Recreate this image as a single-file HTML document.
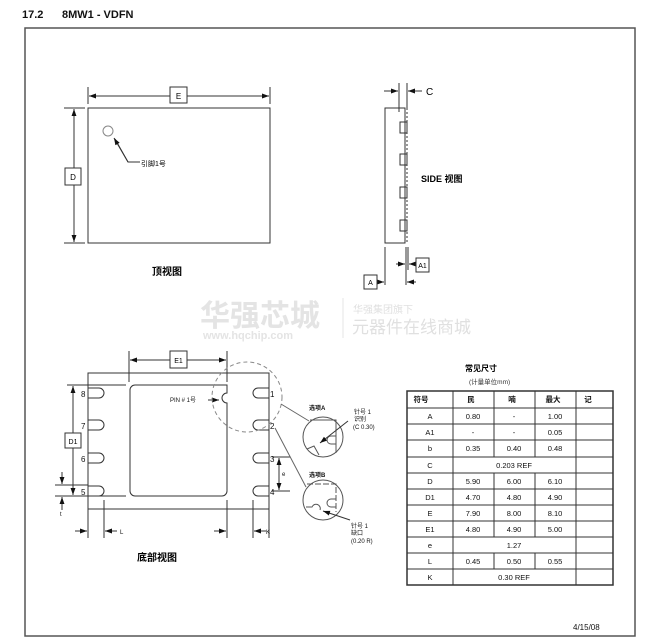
<!DOCTYPE html>
<html><head><meta charset="utf-8"><style>
html,body{margin:0;padding:0;background:#fff;}
svg{display:block;font-family:"Liberation Sans","Noto Sans CJK SC",sans-serif;}
</style></head><body>
<svg width="667" height="637" viewBox="0 0 667 637" xmlns="http://www.w3.org/2000/svg">
<defs>
<marker id="ar" viewBox="0 0 10 10" refX="10" refY="5" markerWidth="7" markerHeight="7" orient="auto-start-reverse"><path d="M0,1.5 L10,5 L0,8.5z" fill="#111"/></marker>
</defs>
<text x="22" y="18" font-size="11" font-weight="bold" fill="#111">17.2</text>
<text x="62" y="18" font-size="11" font-weight="bold" fill="#111">8MW1 - VDFN</text>
<rect x="25" y="28" width="610" height="608" fill="none" stroke="#555" stroke-width="1.5"/>

<g stroke="#333" fill="none" stroke-width="1">
<!-- top view -->
<rect x="88" y="108" width="182" height="135"/>
<line x1="88" y1="87" x2="88" y2="104"/><line x1="270" y1="87" x2="270" y2="104"/>
<line x1="89" y1="96" x2="170" y2="96" marker-start="url(#ar)"/><line x1="187" y1="96" x2="269" y2="96" marker-end="url(#ar)"/>
<line x1="64" y1="108" x2="85" y2="108"/><line x1="64" y1="243" x2="85" y2="243"/>
<line x1="74" y1="109" x2="74" y2="168" marker-start="url(#ar)"/><line x1="74" y1="185" x2="74" y2="242" marker-end="url(#ar)"/>
<circle cx="108" cy="131" r="5" stroke="#888"/>
<polyline points="140,162 128,162 115,139" /><line x1="128" y1="162" x2="114" y2="138" marker-end="url(#ar)"/>
</g>
<rect x="170" y="87" width="17" height="16" fill="#fff" stroke="#333"/><text x="178.5" y="99" font-size="8" text-anchor="middle">E</text>
<rect x="65" y="168" width="16" height="17" fill="#fff" stroke="#333"/><text x="73" y="180" font-size="8" text-anchor="middle">D</text>
<text x="141" y="166" font-size="7">引脚1号</text>
<text x="152" y="275" font-size="10" font-weight="bold">顶视图</text>

<!-- side view -->
<g stroke="#333" fill="none" stroke-width="1">
<rect x="385" y="108" width="20" height="135"/>
<line x1="407" y1="108" x2="407" y2="243" stroke-dasharray="2,2"/>
<rect x="400" y="122" width="7" height="11"/><rect x="400" y="154" width="7" height="11"/>
<rect x="400" y="187" width="7" height="11"/><rect x="400" y="220" width="7" height="11"/>
<line x1="399" y1="83" x2="399" y2="112"/><line x1="407" y1="83" x2="407" y2="108"/>
<line x1="384" y1="91" x2="398" y2="91" marker-end="url(#ar)"/><line x1="422" y1="91" x2="408" y2="91" marker-end="url(#ar)"/>
<line x1="385" y1="247" x2="385" y2="285"/><line x1="406" y1="247" x2="406" y2="285"/><line x1="408" y1="247" x2="408" y2="270"/>
<line x1="396" y1="264" x2="405" y2="264" marker-end="url(#ar)"/><line x1="416" y1="264" x2="409" y2="264" marker-end="url(#ar)"/>
<line x1="377" y1="282" x2="384" y2="282" marker-end="url(#ar)"/><line x1="416" y1="282" x2="407" y2="282" marker-end="url(#ar)"/>
</g>
<text x="426" y="95" font-size="10">C</text>
<text x="421" y="182" font-size="9" font-weight="bold">SIDE 视图</text>
<rect x="416" y="258" width="13" height="14" fill="#fff" stroke="#333"/><text x="422.5" y="268" font-size="7" text-anchor="middle">A1</text>
<rect x="364" y="275" width="13" height="14" fill="#fff" stroke="#333"/><text x="370.5" y="285" font-size="7" text-anchor="middle">A</text>

<!-- watermark -->
<text x="200" y="326" font-size="30" font-weight="bold" fill="#e4e4e4">华强芯城</text>
<text x="203" y="339" font-size="11" font-weight="bold" fill="#e4e4e4">www.hqchip.com</text>
<line x1="343" y1="298" x2="343" y2="338" stroke="#e4e4e4"/>
<text x="353" y="313" font-size="10" fill="#e0e0e0">华强集团旗下</text>
<text x="352" y="333" font-size="17" fill="#e0e0e0">元器件在线商城</text>

<!-- bottom view -->
<g stroke="#333" fill="none" stroke-width="1">
<rect x="88" y="373" width="181" height="136"/>
<path d="M135,385 H227 V393 A4,4 0 0 0 227,403 V491 A5,5 0 0 1 222,496 H135 A5,5 0 0 1 130,491 V390 A5,5 0 0 1 135,385 Z"/>
<path d="M88,388 H99 A5,5 0 0 1 99,398 H88"/><path d="M88,420 H99 A5,5 0 0 1 99,430 H88"/>
<path d="M88,453 H99 A5,5 0 0 1 99,463 H88"/><path d="M88,486 H99 A5,5 0 0 1 99,496 H88"/>
<path d="M269,388 H258 A5,5 0 0 0 258,398 H269"/><path d="M269,420 H258 A5,5 0 0 0 258,430 H269"/>
<path d="M269,453 H258 A5,5 0 0 0 258,463 H269"/><path d="M269,486 H258 A5,5 0 0 0 258,496 H269"/>
<line x1="129" y1="351" x2="129" y2="382"/><line x1="227" y1="351" x2="227" y2="382"/>
<line x1="130" y1="360" x2="170" y2="360" marker-start="url(#ar)"/><line x1="187" y1="360" x2="226" y2="360" marker-end="url(#ar)"/>
<line x1="67" y1="385" x2="126" y2="385"/><line x1="55" y1="496" x2="126" y2="496"/><line x1="55" y1="485" x2="88" y2="485"/>
<line x1="73" y1="386" x2="73" y2="433" marker-start="url(#ar)"/><line x1="73" y1="448" x2="73" y2="495" marker-end="url(#ar)"/>
<line x1="62" y1="472" x2="62" y2="484" marker-end="url(#ar)"/><line x1="62" y1="510" x2="62" y2="497" marker-end="url(#ar)"/>
<line x1="88" y1="509" x2="88" y2="538"/><line x1="104" y1="500" x2="104" y2="538"/>
<line x1="227" y1="500" x2="227" y2="538"/><line x1="253" y1="500" x2="253" y2="538"/><line x1="269" y1="509" x2="269" y2="538"/>
<line x1="75" y1="531" x2="87" y2="531" marker-end="url(#ar)"/><line x1="117" y1="531" x2="105" y2="531" marker-end="url(#ar)"/>
<line x1="214" y1="531" x2="226" y2="531" marker-end="url(#ar)"/><line x1="266" y1="531" x2="254" y2="531" marker-end="url(#ar)"/>
<line x1="272" y1="457" x2="290" y2="457"/><line x1="272" y1="491" x2="290" y2="491"/>
<line x1="279" y1="458" x2="279" y2="490" marker-start="url(#ar)" marker-end="url(#ar)"/>
<line x1="208" y1="400" x2="219" y2="400" marker-end="url(#ar)"/>
<circle cx="247" cy="397" r="35" stroke="#888" stroke-dasharray="4,3"/>
<line x1="281" y1="404" x2="309" y2="421" stroke="#666"/>
<line x1="275" y1="428" x2="306" y2="487" stroke="#666"/>
<circle cx="323" cy="437" r="20" stroke="#555"/>
<path d="M310,420 H336 V453" stroke="#555"/><path d="M307,449 L314,446 L319,455" stroke="#555"/>
<path d="M336,436 H331 A4,4 0 0 0 331,444 H336" stroke="#555"/>
<line x1="348" y1="421" x2="320" y2="443" marker-end="url(#ar)"/>
<circle cx="323" cy="500" r="20" stroke="#555"/>
<path d="M307,484 H336 V512" stroke="#555" stroke-dasharray="6,2"/>
<path d="M306,507 H312 A4,4 0 0 1 320,510" stroke="#555"/>
<path d="M336,499 H331 A4,4 0 0 0 331,507 H336" stroke="#555"/>
<line x1="350" y1="520" x2="323" y2="511" marker-end="url(#ar)"/>
</g>
<rect x="170" y="351" width="17" height="17" fill="#fff" stroke="#333"/><text x="178.5" y="363" font-size="7" text-anchor="middle">E1</text>
<rect x="65" y="433" width="16" height="15" fill="#fff" stroke="#333"/><text x="73" y="444" font-size="7" text-anchor="middle">D1</text>
<g font-size="8" fill="#111">
<text x="81" y="397">8</text><text x="81" y="429">7</text><text x="81" y="462">6</text><text x="81" y="495">5</text>
<text x="270" y="397">1</text><text x="270" y="429">2</text><text x="270" y="462">3</text><text x="270" y="495">4</text>
</g>
<g font-size="6" fill="#111">
<text x="170" y="402">PIN # 1号</text>
<text x="60" y="516">t</text><text x="120" y="534">L</text><text x="266" y="534">K</text><text x="282" y="476">e</text>
<text x="309" y="410" font-weight="bold">选项A</text><text x="309" y="477" font-weight="bold">选项B</text>
<text x="354" y="414">针号 1</text><text x="354" y="421">识别</text><text x="353" y="429">(C 0.30)</text>
<text x="351" y="528">针号 1</text><text x="351" y="535">缺口</text><text x="351" y="543">(0.20 R)</text>
</g>
<text x="137" y="561" font-size="10" font-weight="bold">底部视图</text>

<!-- table -->
<text x="465" y="371" font-size="8" font-weight="bold">常见尺寸</text>
<text x="469" y="384" font-size="6.5" fill="#333">(计量单位mm)</text>
<g stroke="#333" stroke-width="1" fill="none">
<rect x="407" y="391" width="206" height="194" stroke-width="1.5"/>
<line x1="407" y1="408" x2="613" y2="408"/><line x1="407" y1="424" x2="613" y2="424"/><line x1="407" y1="440" x2="613" y2="440"/>
<line x1="407" y1="457" x2="613" y2="457"/><line x1="407" y1="473" x2="613" y2="473"/><line x1="407" y1="489" x2="613" y2="489"/>
<line x1="407" y1="505" x2="613" y2="505"/><line x1="407" y1="521" x2="613" y2="521"/><line x1="407" y1="537" x2="613" y2="537"/>
<line x1="407" y1="553" x2="613" y2="553"/><line x1="407" y1="569" x2="613" y2="569"/>
<line x1="453" y1="391" x2="453" y2="585"/><line x1="576" y1="391" x2="576" y2="585"/>
<line x1="494" y1="391" x2="494" y2="457"/><line x1="535" y1="391" x2="535" y2="457"/>
<line x1="494" y1="473" x2="494" y2="537"/><line x1="535" y1="473" x2="535" y2="537"/>
<line x1="494" y1="553" x2="494" y2="569"/><line x1="535" y1="553" x2="535" y2="569"/>
</g>
<g font-size="7.5" fill="#111" text-anchor="middle">
<text x="421" y="402" font-weight="bold">符号</text><text x="471" y="402" font-weight="bold">民</text><text x="512" y="402" font-weight="bold">喃</text><text x="553" y="402" font-weight="bold">最大</text><text x="588" y="402" font-weight="bold">记</text>
<text x="430" y="419">A</text><text x="473" y="419">0.80</text><text x="514" y="419">-</text><text x="555" y="419">1.00</text>
<text x="430" y="435">A1</text><text x="473" y="435">-</text><text x="514" y="435">-</text><text x="555" y="435">0.05</text>
<text x="430" y="451">b</text><text x="473" y="451">0.35</text><text x="514" y="451">0.40</text><text x="555" y="451">0.48</text>
<text x="430" y="468">C</text><text x="514" y="468">0.203 REF</text>
<text x="430" y="484">D</text><text x="473" y="484">5.90</text><text x="514" y="484">6.00</text><text x="555" y="484">6.10</text>
<text x="430" y="500">D1</text><text x="473" y="500">4.70</text><text x="514" y="500">4.80</text><text x="555" y="500">4.90</text>
<text x="430" y="516">E</text><text x="473" y="516">7.90</text><text x="514" y="516">8.00</text><text x="555" y="516">8.10</text>
<text x="430" y="532">E1</text><text x="473" y="532">4.80</text><text x="514" y="532">4.90</text><text x="555" y="532">5.00</text>
<text x="430" y="548">e</text><text x="514" y="548">1.27</text>
<text x="430" y="564">L</text><text x="473" y="564">0.45</text><text x="514" y="564">0.50</text><text x="555" y="564">0.55</text>
<text x="430" y="580">K</text><text x="514" y="580">0.30 REF</text>
</g>
<text x="573" y="630" font-size="8" fill="#111">4/15/08</text>
</svg>
</body></html>
